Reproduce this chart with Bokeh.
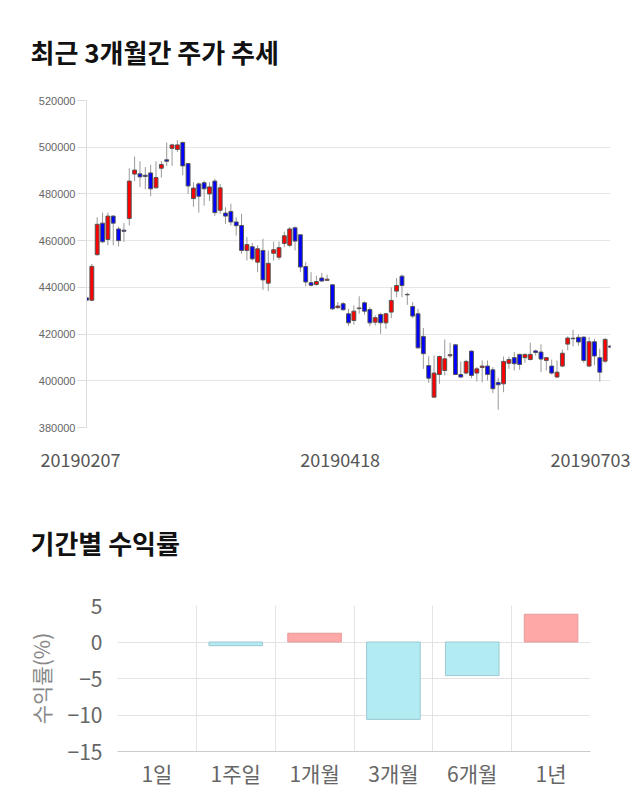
from bokeh.plotting import figure
from bokeh.models import Range1d, FixedTicker, Label, ColumnDataSource, NumeralTickFormatter
from bokeh.embed import file_html
from bokeh.resources import INLINE

# ---------------- data: daily candles (2019-02-07 .. 2019-07-03) ----------------
opens = [435500, 434500, 454000, 467500, 460500, 470500, 465000, 464500, 469500, 488500,
         488600, 488000, 489000, 482600, 491000, 494600, 499500, 499000, 502000, 493000,
         478000, 484300, 484800, 480000, 485500, 473000, 471800, 472500, 468000, 466500,
         455800, 457400, 450800, 455800, 441800, 454600, 452900, 458800, 458000, 465500,
         462500, 448900, 442000, 441200, 444000, 443000, 441100, 431300, 433000, 428700,
         425800, 430900, 433400, 430500, 425100, 428400, 424800, 429400, 438400, 444800,
         437000, 431800, 428700, 419000, 406500, 393000, 402700, 404400, 410700, 415400,
         402700, 403300, 412700, 403300, 405700, 406300, 404700, 399300, 398700, 407500,
         409900, 411300, 409900, 409100, 412800, 412300, 408700, 406300, 401600, 406300,
         415700, 418200, 418600, 418700, 406300, 416700, 409900, 408400, 414900]
highs = [437000, 450000, 470000, 472000, 472000, 471000, 466000, 467500, 491000, 496000,
         494000, 491500, 492500, 494000, 494000, 502000, 501500, 503000, 502500, 493000,
         485000, 485000, 485700, 485000, 486500, 484300, 474300, 475800, 470000, 471500,
         461500, 459000, 458000, 460800, 455800, 459600, 459600, 463900, 465800, 466000,
         462600, 450800, 446500, 445000, 446200, 445400, 441300, 433700, 433700, 430800,
         432200, 436200, 434000, 431500, 428000, 429100, 429100, 440000, 444000, 445500,
         437700, 433700, 430800, 422600, 410500, 410800, 410800, 417700, 416300, 415700,
         408300, 409000, 413000, 405900, 408700, 408700, 405900, 401300, 410400, 410400,
         412300, 411600, 411600, 416300, 413300, 415600, 410000, 409100, 408700, 413400,
         419000, 421800, 419800, 419000, 418700, 418000, 413700, 418400, 415500]
lows = [433000, 434000, 453500, 459000, 458000, 458000, 457500, 459500, 466500, 485500,
        483000, 482000, 479000, 482500, 487000, 492000, 492000, 498000, 488000, 480000,
        474500, 472000, 475000, 477000, 470500, 471500, 467200, 466500, 462200, 454400,
        451500, 451500, 446500, 439000, 438400, 451500, 451800, 457200, 457200, 455800,
        446500, 440400, 440400, 440800, 442600, 442700, 430400, 430800, 430000, 423400,
        424000, 428700, 428300, 423400, 423700, 420100, 422300, 426800, 435800, 435800,
        432500, 426800, 413700, 405100, 399100, 392800, 398700, 402300, 409700, 402500,
        401300, 402800, 401100, 399700, 399400, 400100, 394700, 387600, 395100, 405100,
        404400, 404700, 407700, 408700, 410800, 403700, 404400, 402700, 401300, 405900,
        413000, 414700, 415000, 407700, 405900, 406600, 399700, 407700, 413700]
closes = [434500, 449000, 467000, 459500, 470500, 467500, 460000, 464000, 485500, 490200,
          487300, 487500, 482200, 487000, 492600, 494000, 501000, 501000, 492000, 483400,
          482500, 479000, 482200, 483000, 472000, 482600, 470500, 468000, 466400, 455800,
          458300, 452200, 456500, 443200, 450300, 456100, 457000, 462100, 465000, 459800,
          448700, 442300, 440900, 442500, 442700, 443500, 430800, 432000, 430400, 424800,
          429800, 431200, 429800, 424800, 427000, 424800, 428700, 434400, 440800, 440800,
          436800, 427700, 414100, 411600, 401100, 403300, 410400, 409400, 411200, 402700,
          401600, 408300, 402300, 405100, 406300, 402700, 396600, 398300, 408300, 409100,
          407300, 407000, 411300, 411300, 412100, 409300, 409900, 403300, 403700, 411800,
          418300, 418000, 416600, 408700, 416700, 410600, 403700, 417700, 414400]
date_labels = ["20190207", "20190418", "20190703"]
date_index = [0, 48, 98]
price_ticks = [380000, 400000, 420000, 440000, 460000, 480000, 500000, 520000]

# ---------------- data: period returns ----------------
periods = ["1일", "1주일", "1개월", "3개월", "6개월", "1년"]
returns = [0.0, -0.5, 1.2, -10.6, -4.6, 3.8]
return_ticks = [-15, -10, -5, 0, 5]

KR = "Noto Sans CJK KR"


def make_px(fig_w, fig_h, bl, br, bt, bb, xr, yr):
    """helpers converting figure-pixel positions to data coordinates"""
    fw = fig_w - bl - br
    fh = fig_h - bt - bb
    def fx(px):
        return xr[0] + (px - bl) / fw * (xr[1] - xr[0])
    def fy(py):
        return yr[1] - (py - bt) / fh * (yr[1] - yr[0])
    return fx, fy


# ================= candlestick chart =================
n = len(opens)
idx = list(range(n))
up = [c >= o for o, c in zip(opens, closes)]
src = ColumnDataSource(dict(
    x=idx, h=highs, l=lows,
    top=[max(o, c) for o, c in zip(opens, closes)],
    bottom=[min(o, c) for o, c in zip(opens, closes)],
    color=["#ff0000" if u else "#0000ff" for u in up],
))

W1, H1, L1, R1, T1, B1 = 640, 490, 86, 30, 100, 63
xr1 = (0, n - 1)
yr1 = (price_ticks[0], price_ticks[-1])
p1 = figure(width=W1, height=H1, output_backend="svg", toolbar_location=None,
            x_range=Range1d(*xr1), y_range=Range1d(*yr1),
            min_border_left=L1, min_border_right=R1, min_border_top=T1, min_border_bottom=B1)
fx1, fy1 = make_px(W1, H1, L1, R1, T1, B1, xr1, yr1)
p1.outline_line_color = None
p1.segment(x0="x", y0="l", x1="x", y1="h", source=src, line_color="#999999", line_width=1)
p1.vbar(x="x", top="top", bottom="bottom", width=0.72, fill_color="color",
        line_color="#555555", line_width=1, source=src)
p1.xaxis.visible = False
p1.xgrid.visible = False
p1.ygrid.grid_line_color = "#e6e6e6"
p1.yaxis.ticker = FixedTicker(ticks=price_ticks)
p1.yaxis.formatter = NumeralTickFormatter(format="0")
p1.yaxis.axis_line_color = "#dddddd"
p1.yaxis.major_tick_line_color = "#dddddd"
p1.yaxis.major_tick_in = 0
p1.yaxis.major_tick_out = 9
p1.yaxis.minor_tick_line_color = None
p1.yaxis.major_label_text_font = "Liberation Sans"
p1.yaxis.major_label_text_font_size = "11px"
p1.yaxis.major_label_text_color = "#666666"
p1.yaxis.major_label_standoff = 2

p1.add_layout(Label(x=fx1(30), y=fy1(51), text="최근 3개월간 주가 추세", text_font=KR,
                    text_font_size="26px", text_font_style="bold", text_color="#111111",
                    text_baseline="middle"), "above")
for k, (i, t, off) in enumerate(zip(date_index, date_labels, [-6, -3, -20])):
    p1.add_layout(Label(x=i, y=fy1(459), x_offset=off, text=t, text_font=KR,
                        text_font_size="18px", text_color="#555555",
                        text_align="center", text_baseline="middle"),
                  "above" if k == 0 else "below")

# ================= returns bar chart =================
xs = [i + 0.5 for i in range(len(periods))]
bsrc = ColumnDataSource(dict(
    x=xs, top=returns,
    fill=["#ffa8a8" if r > 0 else ("#b2ebf2" if r < 0 else None) for r in returns],
    line=["#e89a9a" if r > 0 else ("#9cc8d2" if r < 0 else None) for r in returns],
))
W2, H2, L2, R2, T2, B2 = 640, 320, 117, 50, 115, 59
xr2 = (0, len(periods))
yr2 = (return_ticks[0], return_ticks[-1])
p2 = figure(width=W2, height=H2, output_backend="svg", toolbar_location=None,
            x_range=Range1d(*xr2), y_range=Range1d(*yr2),
            min_border_left=L2, min_border_right=R2, min_border_top=T2, min_border_bottom=B2)
fx2, fy2 = make_px(W2, H2, L2, R2, T2, B2, xr2, yr2)
p2.outline_line_color = None
p2.vbar(x="x", top="top", bottom=0, width=0.68, fill_color="fill", line_color="line",
        line_width=1, source=bsrc)
p2.xgrid.ticker = FixedTicker(ticks=list(range(len(periods) + 1)))
p2.xgrid.grid_line_color = "#e3e3e3"
p2.ygrid.grid_line_color = "#e3e3e3"
p2.xaxis.ticker = FixedTicker(ticks=xs)
p2.xaxis.major_label_overrides = {x: t for x, t in zip(xs, periods)}
p2.xaxis.axis_line_color = "#cccccc"
p2.xaxis.major_tick_line_color = None
p2.xaxis.minor_tick_line_color = None
p2.xaxis.major_label_text_font = KR
p2.xaxis.major_label_text_font_size = "21px"
p2.xaxis.major_label_text_color = "#666666"
p2.xaxis.major_label_standoff = 0
p2.yaxis.ticker = FixedTicker(ticks=return_ticks)
p2.yaxis.axis_line_color = None
p2.yaxis.major_tick_line_color = None
p2.yaxis.minor_tick_line_color = None
p2.yaxis.major_label_text_font = KR
p2.yaxis.major_label_text_font_size = "21px"
p2.yaxis.major_label_text_color = "#666666"
p2.yaxis.major_label_standoff = 9
p2.yaxis.axis_label = "수익률(%)"
p2.yaxis.axis_label_text_font = KR
p2.yaxis.axis_label_text_font_size = "21px"
p2.yaxis.axis_label_text_font_style = "normal"
p2.yaxis.axis_label_text_color = "#888888"
p2.yaxis.axis_label_standoff = 9

p2.add_layout(Label(x=fx2(30), y=fy2(52), text="기간별 수익률", text_font=KR,
                    text_font_size="26px", text_font_style="bold", text_color="#111111",
                    text_baseline="middle"), "above")

open("out.html", "w").write(file_html([p1, p2], INLINE))
